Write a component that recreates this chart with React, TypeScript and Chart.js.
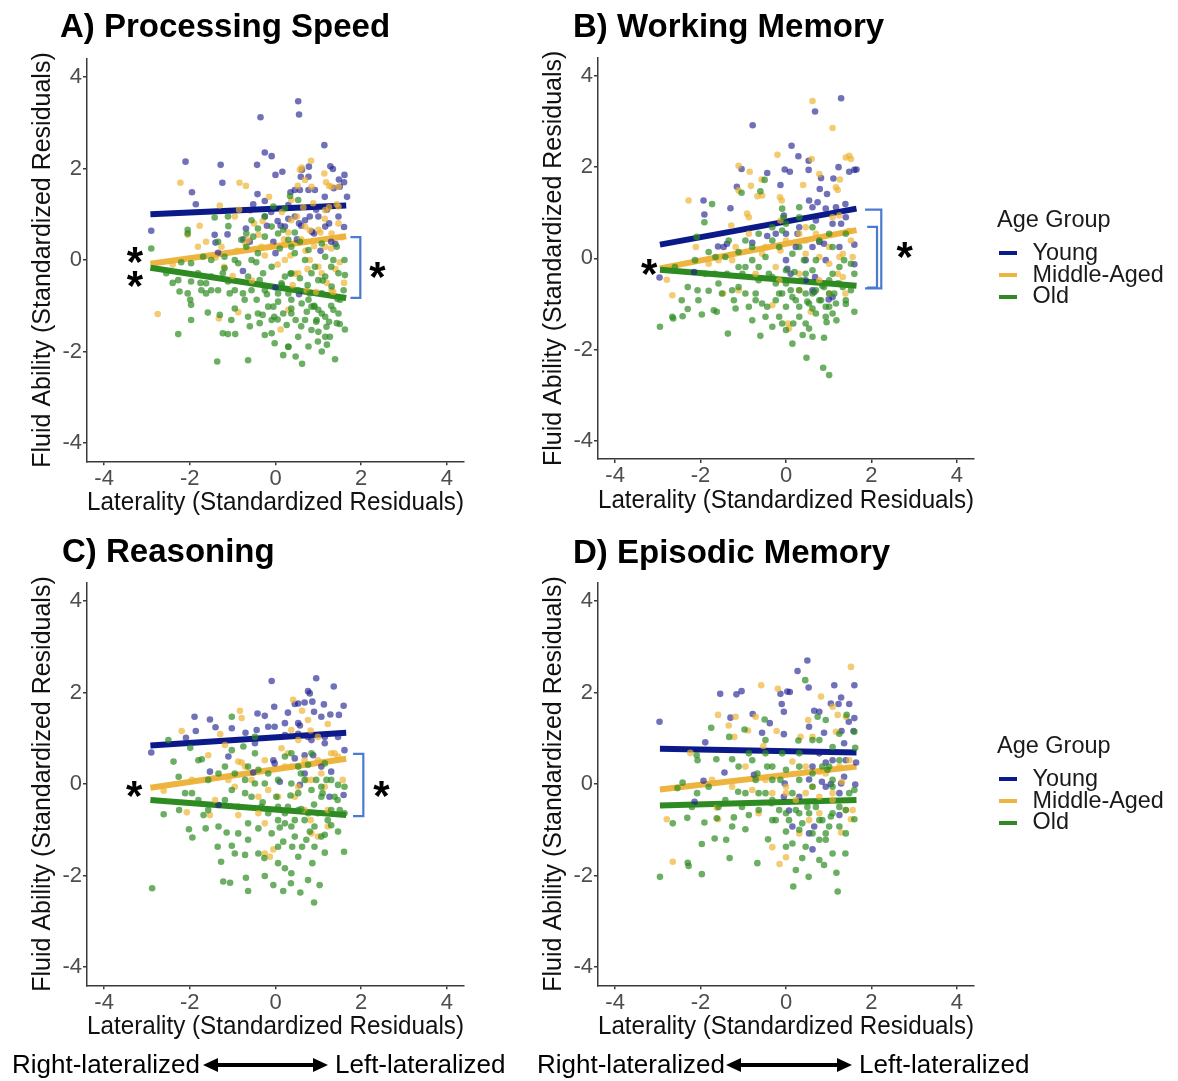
import React, { useEffect, useRef } from 'react';
import { Chart, registerables } from 'chart.js';

Chart.register(...registerables);

type P = [number, number];

const FONT = '"Liberation Sans", Arial, Helvetica, sans-serif';
Chart.defaults.font.family = FONT;

// ---------- shared labels ----------
const groups = ['Young', 'Middle-Aged', 'Old'];
const legendTitle = 'Age Group';
const panelTitles = ['A) Processing Speed', 'B) Working Memory', 'C) Reasoning', 'D) Episodic Memory'];
const xAxisTitle = 'Laterality (Standardized Residuals)';
const yAxisTitle = 'Fluid Ability (Standardized Residuals)';
const tickValues = [-4, -2, 0, 2, 4];
const axisMin = -4.4;
const axisMax = 4.4;
const directionLabels = ['Right-lateralized', 'Left-lateralized'];

const lineColors = ['#0B1A88', '#EEB440', '#2E8B22'];
const pointColors = ['rgba(26,26,140,0.62)', 'rgba(237,179,49,0.68)', 'rgba(46,139,34,0.7)'];
const bracketColor = '#4A7BD0';
const axisColor = '#3a3a3a';

// ---------- A) Processing Speed ----------
const psYoung: P[] = [[-2.9,0.64],[-2.1,2.15],[-1.95,1.48],[-1.86,1.22],[-1.28,2.08],[-1.24,1.69],[-1.42,0.55],[-1.12,0.56],[-1.4,0.38],[-1.34,0.16],[-0.76,-0.24],[-0.69,0.69],[-0.59,1.09],[-0.52,1.22],[-0.43,2.08],[-0.42,1.44],[-0.35,3.12],[-0.25,2.35],[-0.25,1.29],[-0.09,2.27],[0.0,1.86],[0.16,1.93],[-0.1,1.05],[0.05,0.85],[0.12,0.75],[-0.05,0.4],[0.0,0.15],[0.0,-0.6],[0.45,1.53],[0.53,3.47],[0.55,3.18],[0.57,1.53],[0.59,1.82],[0.62,1.97],[0.77,1.82],[0.78,2.04],[0.77,1.53],[0.92,1.53],[0.55,0.8],[0.6,0.75],[0.85,0.62],[0.9,0.58],[0.55,-0.75],[1.14,2.51],[1.15,1.38],[1.28,2.05],[1.34,1.99],[1.36,1.57],[1.48,1.76],[1.5,1.6],[1.6,1.7],[1.61,1.86],[1.67,1.38],[1.25,0.8],[1.6,0.72],[0.5,0.45],[0.95,1.1],[1.2,1.1],[0.3,1.2],[-0.6,0.4],[0.3,0.9],[1.05,0.2],[1.3,0.4],[-0.2,0.75],[0.35,1.48],[1.4,0.35],[0.8,0.95],[-0.75,0.45],[0.45,0.95],[0.69,0.87],[1.0,0.95],[1.16,0.73],[1.47,0.95],[0.22,0.73],[-0.25,0.95]];
const psMiddle: P[] = [[-2.22,1.69],[-2.75,-1.18],[-1.77,0.75],[-1.62,0.4],[-1.3,1.19],[-0.84,1.69],[-0.69,1.62],[-0.5,0.8],[-0.15,1.38],[0.57,1.97],[0.61,2.02],[0.83,2.17],[0.69,1.75],[0.84,1.6],[0.52,1.62],[1.14,1.89],[1.25,1.62],[1.31,1.6],[1.18,1.7],[1.47,1.6],[1.43,1.22],[1.47,0.8],[-1.32,-1.28],[-0.87,-1.14],[0.12,-1.52],[0.3,-1.09],[-0.9,0.2],[-0.7,0.35],[-0.4,0.55],[-0.25,0.1],[-0.1,0.3],[0.05,-0.1],[0.2,0.45],[0.3,0.6],[0.35,0.1],[0.45,-0.3],[0.5,0.95],[0.6,0.45],[0.7,0.2],[0.75,-0.2],[0.8,0.65],[0.9,0.3],[1.0,-0.15],[1.05,0.6],[1.15,0.9],[1.2,-0.5],[1.3,0.25],[1.4,-0.2],[1.5,-0.05],[1.55,0.5],[1.6,-0.5],[1.35,-0.7],[0.95,-0.7],[0.4,-0.55],[-0.55,-0.45],[-1.0,-0.35],[-1.4,0.05],[-1.2,-0.15],[-2.4,-0.1],[-0.3,0.85],[0.15,1.05],[0.65,1.15],[1.25,1.15],[-0.85,1.1],[-2.05,0.55],[0.37,0.87],[0.69,0.73],[1.0,0.66],[1.31,0.58],[1.16,0.29],[0.8,0],[0.53,-0.29],[1.08,-0.29],[1.31,-0.66],[0.73,-0.66],[0.22,0],[-0.33,0.29],[-0.64,0.44],[-0.95,0.95],[-1.26,0.29],[-1.81,0.29],[0.37,1.31],[0.88,1.24],[1.16,1.09],[1.47,1.17]];
const psOld: P[] = [[-2.9,0.25],[-2.05,0.66],[-2.05,0.58],[-1.42,0.93],[-1.1,0.74],[-1.34,0.4],[-2.4,-0.5],[-2.27,-0.44],[-2.27,-1.62],[-1.36,-2.22],[-1.99,-0.87],[-1.97,-1.31],[-1.58,-1.15],[-1.23,-1.6],[-1.11,-1.62],[-0.94,-1.62],[-0.64,-2.19],[-0.25,-1.64],[-0.09,-1.6],[0.18,-2.08],[0.47,-2.11],[0.62,-2.27],[1.39,-2.17],[1.62,-1.52],[1.08,-2.0],[0.99,-1.78],[0.84,-1.53],[0.69,-1.31],[1.16,-1.24],[1.25,-1.35],[0.37,-1.17],[0.26,-1.42],[-0.05,-1.02],[-0.41,-1.17],[-0.72,-0.87],[-0.95,-1.06],[-1.07,-0.73],[-1.62,-0.73],[-1.81,-0.29],[-1.69,0.07],[-1.5,-0.36],[-1.19,-0.18],[-0.87,-0.07],[-0.68,0.29],[-0.41,0.15],[-0.25,0.51],[0.06,0.58],[0.3,0.44],[0.45,0.15],[0.69,0],[0.92,-0.15],[1.16,0.07],[1.43,0.29],[1.61,0],[1.62,-0.33],[1.59,-0.66],[1.31,-0.58],[1.08,-0.73],[0.77,-0.87],[0.53,-0.66],[0.22,-0.36],[-0.09,-0.15],[-0.37,-0.44],[-0.64,-0.36],[-0.95,-0.66],[-1.34,-0.66],[-0.56,0.87],[-0.25,0.95],[-1.11,0.95],[0.22,1.13],[0.34,1.4],[0.53,1.31],[-0.05,1.17],[1.0,-1.09],[1.47,-1.17],[0.06,-0.73],[0.37,-0.87],[0.84,-1.02],[-0.09,-1.31],[0.53,-1.68],[0.77,-1.89],[1.16,-1.68],[-0.95,0],[-1.5,0],[-1.97,-0.07],[-2.55,-0.29],[-0.52,0.51],[-0.8,0.44],[0.9,-1.0],[1.1,-0.45],[1.3,-1.0],[1.45,-0.85],[0.35,-0.3],[0.15,-0.55],[-0.2,-0.75],[0.75,-0.55],[1.5,-1.4],[0.95,-1.35],[1.2,-1.85],[0.6,-1.45],[0.3,-1.9],[0.05,-1.3],[-0.3,-1.2],[-0.6,-1.45],[-1.3,-1.2],[-1.75,-0.5],[-2.2,-0.05],[-0.45,-0.05],[0.45,0.6],[1.3,-0.15],[0.1,0.25],[-2.05,-0.73],[-1.97,-0.98],[-1.73,-0.66],[-1.62,-0.51],[-1.23,-0.29],[-1.11,-0.47],[-0.76,-0.73],[-0.56,-0.66],[-0.44,-0.87],[-0.25,-0.66],[-0.17,-1.02],[-0.03,-1.24],[0.06,-0.91],[0.18,-1.17],[0.3,-0.73],[0.37,-1.06],[0.47,-1.31],[0.61,-0.95],[0.73,-1.13],[0.8,-0.73],[0.91,-1.02],[0.96,-1.31],[1.0,-1.57],[1.08,-1.17],[1.19,-1.46],[1.27,-1.68],[1.35,-1.09],[1.43,-1.38],[1.51,-0.87],[1.16,-0.36],[1.0,-0.44],[0.84,-0.29],[0.57,-0.4],[0.37,-0.29],[0.14,-0.51],[-0.29,-0.29],[-0.56,0],[-1.19,0.07],[-0.68,0.58],[-0.41,0.69],[-0.09,0.73],[0.18,0.66],[0.37,0.29],[0.57,0.4],[0.77,0.22],[1.08,0.36],[1.35,0],[1.47,-0.29],[0.3,-1.89],[-0.02,-1.82],[-0.37,-1.38],[-0.64,-1.24],[-1.03,-1.31],[-1.5,-0.66],[-1.97,-0.47],[-2.24,-0.69]];
const psFitYoung: P[] = [[-2.92, 1.0], [1.65, 1.19]];
const psFitMiddle: P[] = [[-2.92, -0.08], [1.65, 0.52]];
const psFitOld: P[] = [[-2.92, -0.17], [1.65, -0.83]];
const psStars: P[] = [[-3.28, 0.17], [-3.28, -0.36], [2.38, -0.15]];
const psBrackets: number[][] = [[1.75, 1.98, 0.5, -0.83]];

// ---------- B) Working Memory ----------
const wmYoung: P[] = [[1.29,3.51],[0.68,3.22],[-0.78,2.92],[0.13,2.47],[0.29,2.24],[0.53,2.14],[1.23,2.0],[1.48,1.9],[1.6,1.94],[1.65,1.95],[-0.03,1.95],[0.09,1.9],[-0.44,1.87],[-1.04,1.96],[0.53,1.94],[0.82,1.76],[1.11,1.75],[-0.13,1.61],[-1.15,1.57],[0.96,1.41],[0.79,1.52],[-1.93,1.27],[-1.91,0.96],[-1.3,1.1],[0.54,1.27],[0.74,1.23],[0.62,1.12],[0.93,1.09],[1.17,1.12],[1.39,1.19],[-0.05,0.94],[1.29,0.76],[-0.44,0.49],[-0.24,0.54],[0.27,0.54],[0.62,0.25],[0.78,0.36],[0.89,0.32],[1.6,0.3],[-1.59,0.26],[-1.46,0.25],[-1.38,0.32],[-0.79,0.34],[0,-0.04],[0.03,-0.23],[0.11,-0.34],[-2.15,-0.3],[-2.96,-0.42],[1.6,-0.13],[0.68,-0.41],[0.66,-0.74],[1.09,-0.85],[1.0,-0.9],[0.46,-0.48],[0.23,0.25],[0.31,0.68],[0.7,0.83],[1.09,0.76],[1.4,0.9],[0.46,-0.04],[0.93,-0.04],[1.25,0.25],[0,0.54],[0.62,-0.7]];
const wmMiddle: P[] = [[0.62,3.45],[1.09,2.86],[-0.2,2.27],[-1.11,2.03],[-0.85,1.9],[1.4,2.21],[1.48,2.25],[1.52,2.18],[0.6,2.18],[0.4,1.61],[0.78,1.85],[1.26,1.73],[1.17,1.56],[1.21,1.5],[-0.57,1.73],[-0.82,1.59],[-1.11,1.49],[-0.67,1.36],[-0.56,1.38],[-0.14,1.34],[-0.1,1.27],[-2.28,1.27],[-0.91,0.98],[-0.87,0.9],[-1.28,0.72],[-0.13,0.83],[1.09,0.9],[1.25,0.94],[1.47,0.6],[0.46,0.68],[-2.11,0.25],[-2.79,-0.47],[-2.66,-0.81],[-1.81,-0.12],[-1.58,-0.04],[-1.47,-0.77],[-1.11,-0.7],[-0.32,-1.03],[0.05,-1.43],[0.07,-1.54],[0.58,-1.17],[1.39,-0.77],[1.52,0.39],[1.25,0.03],[1.01,-0.12],[0.78,0.03],[0.31,-0.34],[-0.13,0.17],[-0.56,0.1],[-1.18,0.25],[-0.24,-0.19],[-0.71,-0.34],[0.78,-0.48],[1.21,-0.34],[1.56,0.03],[0.46,0.39],[0.31,0.54],[0.7,0.54],[1.01,0.25],[1.33,0.1],[0.46,0.1],[0,0.39],[-0.48,0.25],[-0.87,0.54],[-1.26,-0.04],[1.33,-0.41],[1.01,-0.77],[0.31,-0.7],[-0.16,-0.48]];
const wmOld: P[] = [[-2.95,-1.5],[-2.66,-1.28],[-2.64,-1.32],[-2.42,-1.27],[-2.3,-0.63],[-2.07,-0.7],[-2.3,-1.11],[-1.97,-1.23],[-1.69,-1.14],[-1.62,-1.17],[-1.36,-1.65],[-1.22,-0.92],[-1.18,-1.1],[-1.81,-0.71],[-1.67,-0.34],[-2.09,0.47],[-1.73,1.19],[-1.91,0.79],[-1.04,1.44],[-0.6,1.47],[-0.5,1.72],[-0.09,1.09],[-0.06,0.9],[-0.87,-1.06],[-0.79,-1.36],[-0.48,-1.28],[-0.32,-1.5],[-0.6,-1.7],[-0.09,-1.43],[0.17,-1.43],[0.39,-1.68],[0.62,-1.72],[0.89,-1.74],[0.54,-1.54],[1.18,-1.36],[1.6,-1.17],[0.48,-2.18],[0.87,-2.4],[1.01,-2.56],[1.09,-1.21],[0.93,-1.06],[0.62,-1.1],[0.31,-1.06],[0,-1.06],[-0.24,-0.92],[-0.56,-0.99],[-1.11,-0.63],[-1.38,-0.34],[-0.95,-0.19],[-0.64,-0.19],[-0.32,-0.41],[0,-0.55],[0.31,-0.7],[0.62,-0.77],[1.01,-0.77],[1.33,-0.63],[1.6,-0.34],[1.52,-0.12],[1.25,-0.19],[1.01,-0.48],[0.7,-0.04],[0.42,-0.04],[0.15,0.1],[-0.16,0.25],[-0.48,0.03],[-0.79,-0.04],[-1.11,0.14],[-1.42,0.03],[-1.81,0.14],[-2.13,-0.04],[-2.6,-0.19],[-0.95,0.39],[-0.64,0.54],[-0.32,0.68],[0,0.76],[0.31,0.9],[0.62,0.68],[1.01,0.54],[1.4,0.54],[0.31,1.12],[-0.09,0.61],[0.46,-0.34],[0.78,-0.92],[1.17,-0.99],[0.15,-0.85],[-0.16,-0.77],[-1.02,-0.34],[-0.71,-0.77],[-1.5,-0.77],[0.85,-0.6],[1.2,-0.55],[0.5,-0.95],[1.4,-1.0],[0.95,-1.4],[0.2,-0.3],[-0.4,-0.34],[-0.24,-0.55],[-0.09,-0.77],[0.11,-0.7],[0.23,-0.92],[0.35,-0.48],[0.46,-0.77],[0.54,-0.99],[0.7,-0.7],[0.82,-0.92],[0.89,-0.63],[1.01,-1.06],[1.13,-0.77],[1.25,-0.55],[1.4,-0.92],[1.52,-0.7],[0.93,-1.28],[0.7,-1.21],[0.31,-1.28],[-0.16,-1.28],[-0.44,-1.06],[-0.71,-0.92],[-0.95,-0.77],[-1.26,-0.7],[-1.58,-0.55],[-1.89,-0.34],[-2.05,-0.92],[-2.44,-0.92],[-1.11,-0.19],[-0.64,-0.48],[0,-0.26],[0.62,-0.26],[1.09,-0.34],[1.36,-0.04],[0.31,0.25],[0.78,0.39],[1.09,0.25],[-0.32,0.39],[-0.79,0.25],[-1.34,0.39],[-1.65,0.03],[0.15,-1.87],[0.46,-1.43],[0,-1.57]];
const wmFitYoung: P[] = [[-2.95, 0.3], [1.65, 1.09]];
const wmFitMiddle: P[] = [[-2.95, -0.22], [1.65, 0.62]];
const wmFitOld: P[] = [[-2.95, -0.25], [1.65, -0.6]];
const wmStars: P[] = [[-3.2, -0.12], [2.78, 0.25]];
const wmBrackets: number[][] = [[1.85, 2.23, 1.07, -0.66], [1.9, 2.13, 0.69, -0.64]];

// ---------- C) Reasoning ----------
const rsYoung: P[] = [[-0.09,2.25],[0.95,2.31],[1.36,2.13],[0.76,2.03],[0.8,1.98],[0.45,1.75],[0.53,1.76],[0.68,1.78],[0.86,1.8],[1.13,1.74],[1.59,1.71],[-0.03,1.69],[-0.42,1.54],[-0.25,1.49],[-1.89,1.47],[-1.53,1.41],[-1.4,1.24],[-1.02,1.22],[-1.86,1.16],[-2.09,1.01],[-0.7,1.12],[-0.44,1.18],[-0.17,1.25],[-0.02,1.25],[0.29,1.56],[0.53,1.33],[0.57,1.28],[0.9,1.58],[1.07,1.47],[1.28,1.52],[1.48,1.51],[-2.9,0.69],[-1.1,0.6],[-0.05,0.52],[-0.02,0.45],[0.45,0.56],[0.68,0.63],[0.88,0.63],[1.3,0.27],[1.61,0.74],[-1.53,0.27],[-0.52,0.25],[0.1,0.05],[0.57,-0.02],[1.26,-0.28],[1.59,-0.24],[-1.33,-0.46],[-0.48,0.89],[0.22,1.07],[0.76,1.03],[1.15,0.89],[0.53,1.1],[0.84,0.96],[1.15,1.03],[1.46,1.03],[0.22,1.33],[0.68,0.23],[1.07,0.38]];
const rsMiddle: P[] = [[-2.19,1.16],[-0.83,1.6],[-1.29,1.09],[-0.79,1.44],[0.41,1.84],[0.62,1.6],[0.82,1.17],[1.22,1.31],[-1.18,0.85],[-1.57,0.63],[-0.87,0.49],[-0.79,0.47],[0.14,0.78],[0.29,0.67],[1.38,0.67],[1.46,0.6],[1.07,0.23],[-1.95,0.09],[-2.61,-0.15],[-2.07,-0.62],[-1.41,-0.35],[-1.53,-0.68],[-0.87,-0.68],[-0.25,-0.86],[-0.05,-1.43],[-0.25,-1.52],[-0.13,-1.59],[0.82,-0.79],[0.99,-1.15],[1.22,-0.93],[0.72,0.09],[0.45,-0.28],[-0.17,-0.13],[-0.56,0.09],[-1.1,0.09],[0.22,0.38],[1.15,-0.06],[1.57,0.09],[0.53,0.96],[0.99,1.03],[-0.4,-0.28],[0.68,-0.57],[0.37,0.38],[0.68,0.52],[0.99,0.52],[1.3,0.67],[0.84,0.09],[0.53,-0.06],[0.06,-0.28],[-0.4,-0.64],[-0.71,0.38],[-0.25,0.52],[-0.95,-0.06],[1.22,-0.57],[0.84,-1.08],[0.37,1.18],[0.76,1.4]];
const rsOld: P[] = [[-2.88,-2.28],[-2.61,-0.66],[-2.25,-0.57],[-2.38,0.49],[-2.5,0.96],[-1.99,0.79],[-1.8,0.52],[-1.72,0.54],[-2.26,0.16],[-2.02,-0.99],[-1.94,-1.17],[-1.68,-0.68],[-1.63,-0.97],[-1.35,-1.37],[-1.27,-1.7],[-1.22,-2.13],[-1.06,-2.16],[-0.69,-2.05],[-0.64,-2.34],[-0.25,-2.01],[-0.05,-2.21],[0.18,-2.34],[0.36,-2.17],[0.58,-2.37],[0.9,-2.59],[1.03,-2.21],[1.6,-1.48],[1.15,-1.5],[0.86,-1.73],[0.62,-1.37],[0.39,-1.37],[0.22,-1.84],[-0.26,-1.62],[-0.71,-1.55],[-0.95,-1.52],[-1.02,-1.35],[-1.14,-1.06],[-0.64,-0.86],[-0.4,-0.97],[-0.09,-1.08],[0.18,-1.26],[0.45,-1.15],[0.8,-1.04],[1.15,-1.11],[1.46,-1.04],[1.61,-0.64],[1.61,-0.06],[1.46,-0.02],[1.19,0.09],[1.07,-0.28],[0.84,-0.13],[0.53,-0.2],[0.29,-0.5],[0.02,-0.28],[-0.25,0.01],[-0.48,0.01],[-0.71,-0.2],[-1.02,-0.13],[-1.33,0.23],[-0.95,0.23],[-0.64,0.38],[-0.48,0.67],[-1.02,0.74],[-0.75,0.82],[0.37,0.67],[0.76,0.42],[0.59,0.23],[0.06,-0.5],[-0.17,-0.64],[-0.87,-0.5],[-1.18,-0.35],[-1.95,-0.2],[0.68,-0.79],[0.99,-0.64],[1.3,-0.57],[0.45,-0.79],[0.22,-0.86],[-1.02,1.47],[-0.48,1.03],[0.95,0.09],[0.72,-1.22],[1.3,-0.9],[0.9,-0.45],[0.6,-0.55],[1.1,-0.2],[1.45,-0.35],[0.35,-0.25],[-0.3,-0.4],[0.1,-0.95],[-0.56,-0.28],[-0.33,-0.5],[0.06,-0.79],[0.22,-0.64],[0.37,-0.93],[0.53,-0.57],[0.76,-0.64],[0.91,-0.93],[1.07,-1.15],[1.22,-0.79],[1.38,-0.28],[1.5,-0.57],[0.91,-1.37],[0.53,-1.59],[0.06,-1.73],[-0.4,-1.52],[-0.64,-1.22],[-0.87,-1.08],[-1.33,-0.93],[-1.57,-0.57],[-1.8,-0.35],[-2.11,-0.2],[-0.71,0.09],[-0.4,0.31],[-0.17,0.23],[0.06,0.09],[0.37,0.01],[0.68,0.09],[1.07,-0.06],[1.3,0.09],[0.53,0.38],[0.84,0.67],[1.15,0.45],[0.22,0.6],[-1.18,0.38],[-1.57,0.09],[0.06,-1.37],[0.37,-1.95],[0.76,-2.1]];
const rsFitYoung: P[] = [[-2.92, 0.84], [1.65, 1.12]];
const rsFitMiddle: P[] = [[-2.92, -0.08], [1.65, 0.55]];
const rsFitOld: P[] = [[-2.92, -0.35], [1.65, -0.68]];
const rsStars: P[] = [[-3.3, -0.05], [2.47, -0.05]];
const rsBrackets: number[][] = [[1.81, 2.05, 0.66, -0.7]];

// ---------- D) Episodic Memory ----------
const emYoung: P[] = [[0.5,2.7],[0.27,2.47],[0.53,2.11],[-2.96,1.36],[-1.54,1.97],[-1.16,1.96],[-1.04,2.03],[-0.13,1.97],[0.03,2.02],[0.09,2.01],[-0.1,1.75],[-0.05,1.58],[-0.78,1.53],[-1.3,1.45],[-0.38,1.33],[-0.56,1.12],[-0.05,1.09],[-1.89,0.91],[1.13,2.16],[1.6,2.16],[1.29,1.89],[1.05,1.76],[1.23,1.75],[1.48,1.75],[0.66,1.6],[0.78,1.58],[0.54,1.25],[0.89,1.12],[1.3,1.16],[1.6,1.44],[1.47,1.36],[1.58,1.16],[1.36,0.89],[0.93,0.47],[1.64,0.47],[1.36,0.16],[1.62,-0.01],[-1.44,0.25],[-1.93,0.07],[-2.14,-0.39],[-0.75,0.2],[-0.03,0.01],[-0.05,-0.28],[0.07,-0.58],[0.54,0.1],[0.84,0.05],[1.05,0],[1.29,0.01],[1.25,-0.68],[0.54,-1.08],[0.62,-1.43],[0.66,-0.93],[0.15,-0.93],[0.78,0.67],[0.62,0.38],[0.93,-0.06],[1.25,-0.2],[1.4,0.52],[0.31,-0.28],[1.09,0.52]];
const emMiddle: P[] = [[1.52,2.56],[-0.58,2.16],[-0.19,2.08],[0.82,1.91],[1.09,1.69],[1.21,1.51],[1.4,1.47],[-1.59,1.51],[-1.34,1.28],[-1.18,1.47],[-0.71,1.47],[0.52,1.4],[0.34,1.03],[0.62,1.03],[1.17,1.14],[-0.22,1.16],[-1.21,1.03],[-0.89,1.17],[-0.53,0.83],[-2.24,0.68],[0.15,0.49],[0.78,0.27],[1.31,0.05],[1.48,0.52],[-2.79,-0.77],[-2.65,-1.7],[-1.59,-0.77],[-1.62,-0.52],[-0.32,-1.38],[0,-1.6],[-0.15,-1.75],[0.54,-0.79],[1.09,-0.35],[1.4,-0.57],[1.52,-0.77],[1.29,-1.06],[0.23,-0.35],[-0.32,-0.2],[-0.79,-0.13],[-1.26,-0.06],[-1.73,0.09],[0.46,-0.2],[0.78,-0.28],[-0.64,-0.64],[0,-0.06],[0.46,0.38],[0.93,0.23],[1.25,0.38],[0.62,-0.06],[1.09,-0.2],[0,-0.2],[-0.48,0.09],[-0.95,0.38],[1.56,-0.57],[0.78,-0.64],[0.31,-1.08]];
const emOld: P[] = [[-2.95,-2.03],[-2.65,-0.86],[-2.54,-0.09],[-2.42,0.03],[-2.31,-0.74],[-2.3,-1.72],[-2.28,-1.79],[-2.09,0.63],[-2.07,0.52],[-2.08,-0.2],[-1.97,-1.31],[-1.97,-1.97],[-1.91,-0.84],[-1.75,1.23],[-1.67,-1.19],[-1.63,0.54],[-1.62,-0.75],[-1.4,-1.22],[-1.33,1.03],[-1.32,-1.62],[-1.26,0.54],[-1.22,-0.73],[-1.12,-0.17],[-0.97,1.19],[-0.95,-0.99],[-0.87,-0.68],[-0.67,-1.73],[-0.67,0.23],[-0.5,1.41],[-0.44,0.38],[-0.42,-1.21],[-0.34,-0.42],[-0.24,-0.79],[-0.09,0.67],[0,-1.04],[0.15,-1.3],[0.17,-2.24],[0.23,-1.88],[0.29,0.95],[0.38,-1.62],[0.45,2.27],[0.53,-2.03],[0.62,-1.08],[0.74,1.47],[0.78,-1.66],[0.89,-1.77],[0.93,-1.22],[0.97,0.31],[1.01,0.38],[1.05,-0.71],[1.18,-1.94],[1.21,-2.35],[1.39,-1.52],[1.42,1.51],[1.6,1.14],[1.62,0.79],[1.6,-0.13],[1.6,-0.77],[1.25,-0.5],[0.5,-0.5],[0.31,-0.64],[0,-0.64],[-0.64,-0.57],[-0.32,0.09],[0.31,0.09],[0.62,-0.06],[1.09,-0.06],[0.78,-0.79],[0.31,-1.0],[1.01,-0.93],[-0.48,-0.2],[-0.95,-0.2],[-1.42,-0.35],[-1.11,0.38],[-0.79,0.52],[-0.48,0.67],[1.09,0.81],[0.78,0.96],[1.25,0.52],[-0.13,0.09],[0.15,-0.2],[-0.64,-0.2],[-0.32,-0.35],[-0.16,-0.57],[0.07,-0.79],[0.23,-0.57],[0.38,-0.86],[0.54,-0.64],[0.7,-0.5],[0.85,-0.79],[0.93,-1.08],[1.09,-0.64],[1.25,-0.93],[1.4,-0.57],[1.48,-0.2],[1.09,0.09],[0.85,0.38],[0.62,0.23],[0.31,0.38],[0,0.31],[-0.32,0.38],[-0.71,0.09],[-1.03,-0.5],[-1.26,-0.93],[-1.58,-0.5],[-1.81,-0.06],[-2.2,-0.5],[-0.32,-0.79],[0,-1.37],[0.46,-1.37],[0.78,-1.22],[1.09,-1.52],[1.4,-1.08],[0.31,0.67],[0.62,0.96],[-0.48,0.96],[-0.87,0.67],[1.25,1.1],[0.93,1.4]];
const emFitYoung: P[] = [[-2.95, 0.77], [1.65, 0.69]];
const emFitMiddle: P[] = [[-2.95, -0.12], [1.65, 0.38]];
const emFitOld: P[] = [[-2.95, -0.47], [1.65, -0.35]];
const emStars: P[] = [];
const emBrackets: number[][] = [];

// ---------- layout ----------
type Panel = {
  id: string;
  left: number; top: number; w: number; h: number;
  chartTop: number; chartBottom: number; chartRight: number;
  points: P[][]; fits: P[][]; stars: P[]; brackets: number[][];
};

const X_SCALE_H = 58.7;
const Y_SCALE_W = 87;
const AXIS_TITLE_SIZE = 25;
const TICK_SIZE = 22;

const panels: Panel[] = [
  { id: 'A', left: 0, top: 0, w: 511, h: 520, chartTop: 58.7, chartBottom: 461.3, chartRight: 464,
    points: [psYoung, psMiddle, psOld], fits: [psFitYoung, psFitMiddle, psFitOld], stars: psStars, brackets: psBrackets },
  { id: 'B', left: 511, top: 0, w: 667, h: 520, chartTop: 57.7, chartBottom: 459, chartRight: 463,
    points: [wmYoung, wmMiddle, wmOld], fits: [wmFitYoung, wmFitMiddle, wmFitOld], stars: wmStars, brackets: wmBrackets },
  { id: 'C', left: 0, top: 520, w: 511, h: 561, chartTop: 62.7, chartBottom: 465.3, chartRight: 464,
    points: [rsYoung, rsMiddle, rsOld], fits: [rsFitYoung, rsFitMiddle, rsFitOld], stars: rsStars, brackets: rsBrackets },
  { id: 'D', left: 511, top: 520, w: 667, h: 561, chartTop: 62.7, chartBottom: 465.3, chartRight: 463,
    points: [emYoung, emMiddle, emOld], fits: [emFitYoung, emFitMiddle, emFitOld], stars: emStars, brackets: emBrackets },
];

function buildConfig(p: Panel): any {
  const toPts = (arr: P[]) => arr.map(([x, y]) => ({ x, y }));
  const datasets: any[] = [];
  p.fits.forEach((f, i) => {
    datasets.push({
      label: groups[i] + ' fit', data: toPts(f), showLine: true,
      borderColor: lineColors[i], backgroundColor: lineColors[i], borderWidth: 6,
      borderCapStyle: 'butt', pointRadius: 0, pointHoverRadius: 0, order: 12 - i,
    });
  });
  p.points.forEach((g, i) => {
    datasets.push({
      label: groups[i], data: toPts(g), showLine: false,
      pointRadius: 3.3, pointHoverRadius: 3.3, pointBorderWidth: 0,
      pointBackgroundColor: pointColors[i], backgroundColor: pointColors[i], borderWidth: 0,
      order: 3 - i,
    });
  });

  const annot = {
    id: 'annot' + p.id,
    afterDraw(chart: any) {
      const ctx = chart.ctx;
      const xs = chart.scales.x;
      const ys = chart.scales.y;
      ctx.save();
      ctx.strokeStyle = bracketColor;
      ctx.lineWidth = 2.2;
      ctx.lineJoin = 'miter';
      p.brackets.forEach(([xl, xv, yt, yb]) => {
        ctx.beginPath();
        ctx.moveTo(xs.getPixelForValue(xl), ys.getPixelForValue(yt));
        ctx.lineTo(xs.getPixelForValue(xv), ys.getPixelForValue(yt));
        ctx.lineTo(xs.getPixelForValue(xv), ys.getPixelForValue(yb));
        ctx.lineTo(xs.getPixelForValue(xl), ys.getPixelForValue(yb));
        ctx.stroke();
      });
      ctx.fillStyle = '#000';
      ctx.font = `bold 42px ${FONT}`;
      ctx.textAlign = 'center';
      ctx.textBaseline = 'alphabetic';
      p.stars.forEach(([x, y]) => {
        ctx.fillText('*', xs.getPixelForValue(x), ys.getPixelForValue(y) + 24);
      });
      ctx.restore();
    },
  };

  const common = (isX: boolean) => ({
    type: 'linear',
    min: axisMin,
    max: axisMax,
    afterBuildTicks: (s: any) => { s.ticks = tickValues.map((v) => ({ value: v })); },
    grid: { drawOnChartArea: false, drawTicks: true, tickLength: 4, color: axisColor, lineWidth: 1.5 },
    border: { display: true, color: axisColor, width: 1.5 },
    ticks: { color: '#4d4d4d', font: { size: TICK_SIZE, family: FONT }, padding: isX ? 0 : 1, maxRotation: 0, autoSkip: false },
  });

  return {
    type: 'scatter',
    data: { datasets },
    options: {
      responsive: false,
      animation: false,
      events: [],
      layout: { padding: { top: p.chartTop, left: 0, right: p.w - p.chartRight, bottom: p.h - p.chartBottom - X_SCALE_H } },
      plugins: { legend: { display: false }, tooltip: { enabled: false }, title: { display: false } },
      scales: {
        x: {
          ...common(true),
          position: 'bottom',
          afterFit: (s: any) => { s.height = X_SCALE_H; },
          title: { display: true, text: xAxisTitle, color: '#111', font: { size: AXIS_TITLE_SIZE, family: FONT }, padding: { top: 0, bottom: 2 } },
        },
        y: {
          ...common(false),
          position: 'left',
          afterFit: (s: any) => { s.width = Y_SCALE_W; },
          title: { display: true, text: yAxisTitle, color: '#111', font: { size: AXIS_TITLE_SIZE, family: FONT }, padding: { top: 28, bottom: 0 } },
        },
      },
    },
    plugins: [annot],
  };
}

function PanelChart({ panel }: { panel: Panel }) {
  const ref = useRef<HTMLCanvasElement>(null);
  useEffect(() => {
    if (!ref.current) return;
    const chart = new Chart(ref.current, buildConfig(panel));
    return () => chart.destroy();
  }, [panel]);
  return (
    <canvas
      ref={ref}
      width={panel.w}
      height={panel.h}
      style={{ position: 'absolute', left: panel.left, top: panel.top, width: panel.w, height: panel.h }}
    />
  );
}

function Label({ x, baseline, size, bold, color, children }: any) {
  return (
    <div
      style={{
        position: 'absolute', left: x, top: baseline - 0.8465 * size,
        fontFamily: FONT, fontSize: size, lineHeight: `${size}px`,
        fontWeight: bold ? 700 : 400, whiteSpace: 'nowrap', color: color || '#000',
      }}
    >
      {children}
    </div>
  );
}

function Legend({ dy }: { dy: number }) {
  const itemBaselines = [261, 282.5, 303.5];
  const keyCenters = [253.3, 275, 296.7];
  return (
    <>
      <Label x={997} baseline={227.7 + dy} size={23.5} color="#1a1a1a">{legendTitle}</Label>
      {groups.map((g, i) => (
        <React.Fragment key={g}>
          <div style={{ position: 'absolute', left: 999, top: keyCenters[i] + dy - 2, width: 18, height: 4, background: lineColors[i] }} />
          <Label x={1032.5} baseline={itemBaselines[i] + dy} size={23.4} color="#1a1a1a">{g}</Label>
        </React.Fragment>
      ))}
    </>
  );
}

function Arrow({ x1, x2, y }: { x1: number; x2: number; y: number }) {
  const hl = 15, hh = 7, sh = 2;
  const pts = [
    [x1, y], [x1 + hl, y - hh], [x1 + hl, y - sh], [x2 - hl, y - sh], [x2 - hl, y - hh], [x2, y],
    [x2 - hl, y + hh], [x2 - hl, y + sh], [x1 + hl, y + sh], [x1 + hl, y + hh],
  ].map((q) => q.join(',')).join(' ');
  return <polygon points={pts} fill="#000" />;
}

export default function App() {
  return (
    <div style={{ position: 'absolute', left: 0, top: 0, width: 1178, height: 1081, background: '#fff', overflow: 'hidden', fontFamily: FONT }}>
      {panels.map((p) => <PanelChart key={p.id} panel={p} />)}
      <Label x={60} baseline={37} size={33} bold>{panelTitles[0]}</Label>
      <Label x={573} baseline={37} size={33} bold>{panelTitles[1]}</Label>
      <Label x={62} baseline={562} size={33} bold>{panelTitles[2]}</Label>
      <Label x={573} baseline={563} size={33} bold>{panelTitles[3]}</Label>
      <Legend dy={0} />
      <Legend dy={526} />
      <Label x={12} baseline={1073} size={26}>{directionLabels[0]}</Label>
      <Label x={335} baseline={1073} size={26}>{directionLabels[1]}</Label>
      <Label x={537} baseline={1073} size={26}>{directionLabels[0]}</Label>
      <Label x={859} baseline={1073} size={26}>{directionLabels[1]}</Label>
      <svg width={1178} height={1081} style={{ position: 'absolute', left: 0, top: 0, pointerEvents: 'none' }}>
        <Arrow x1={203} x2={328} y={1065} />
        <Arrow x1={726} x2={852} y={1065} />
      </svg>
    </div>
  );
}
